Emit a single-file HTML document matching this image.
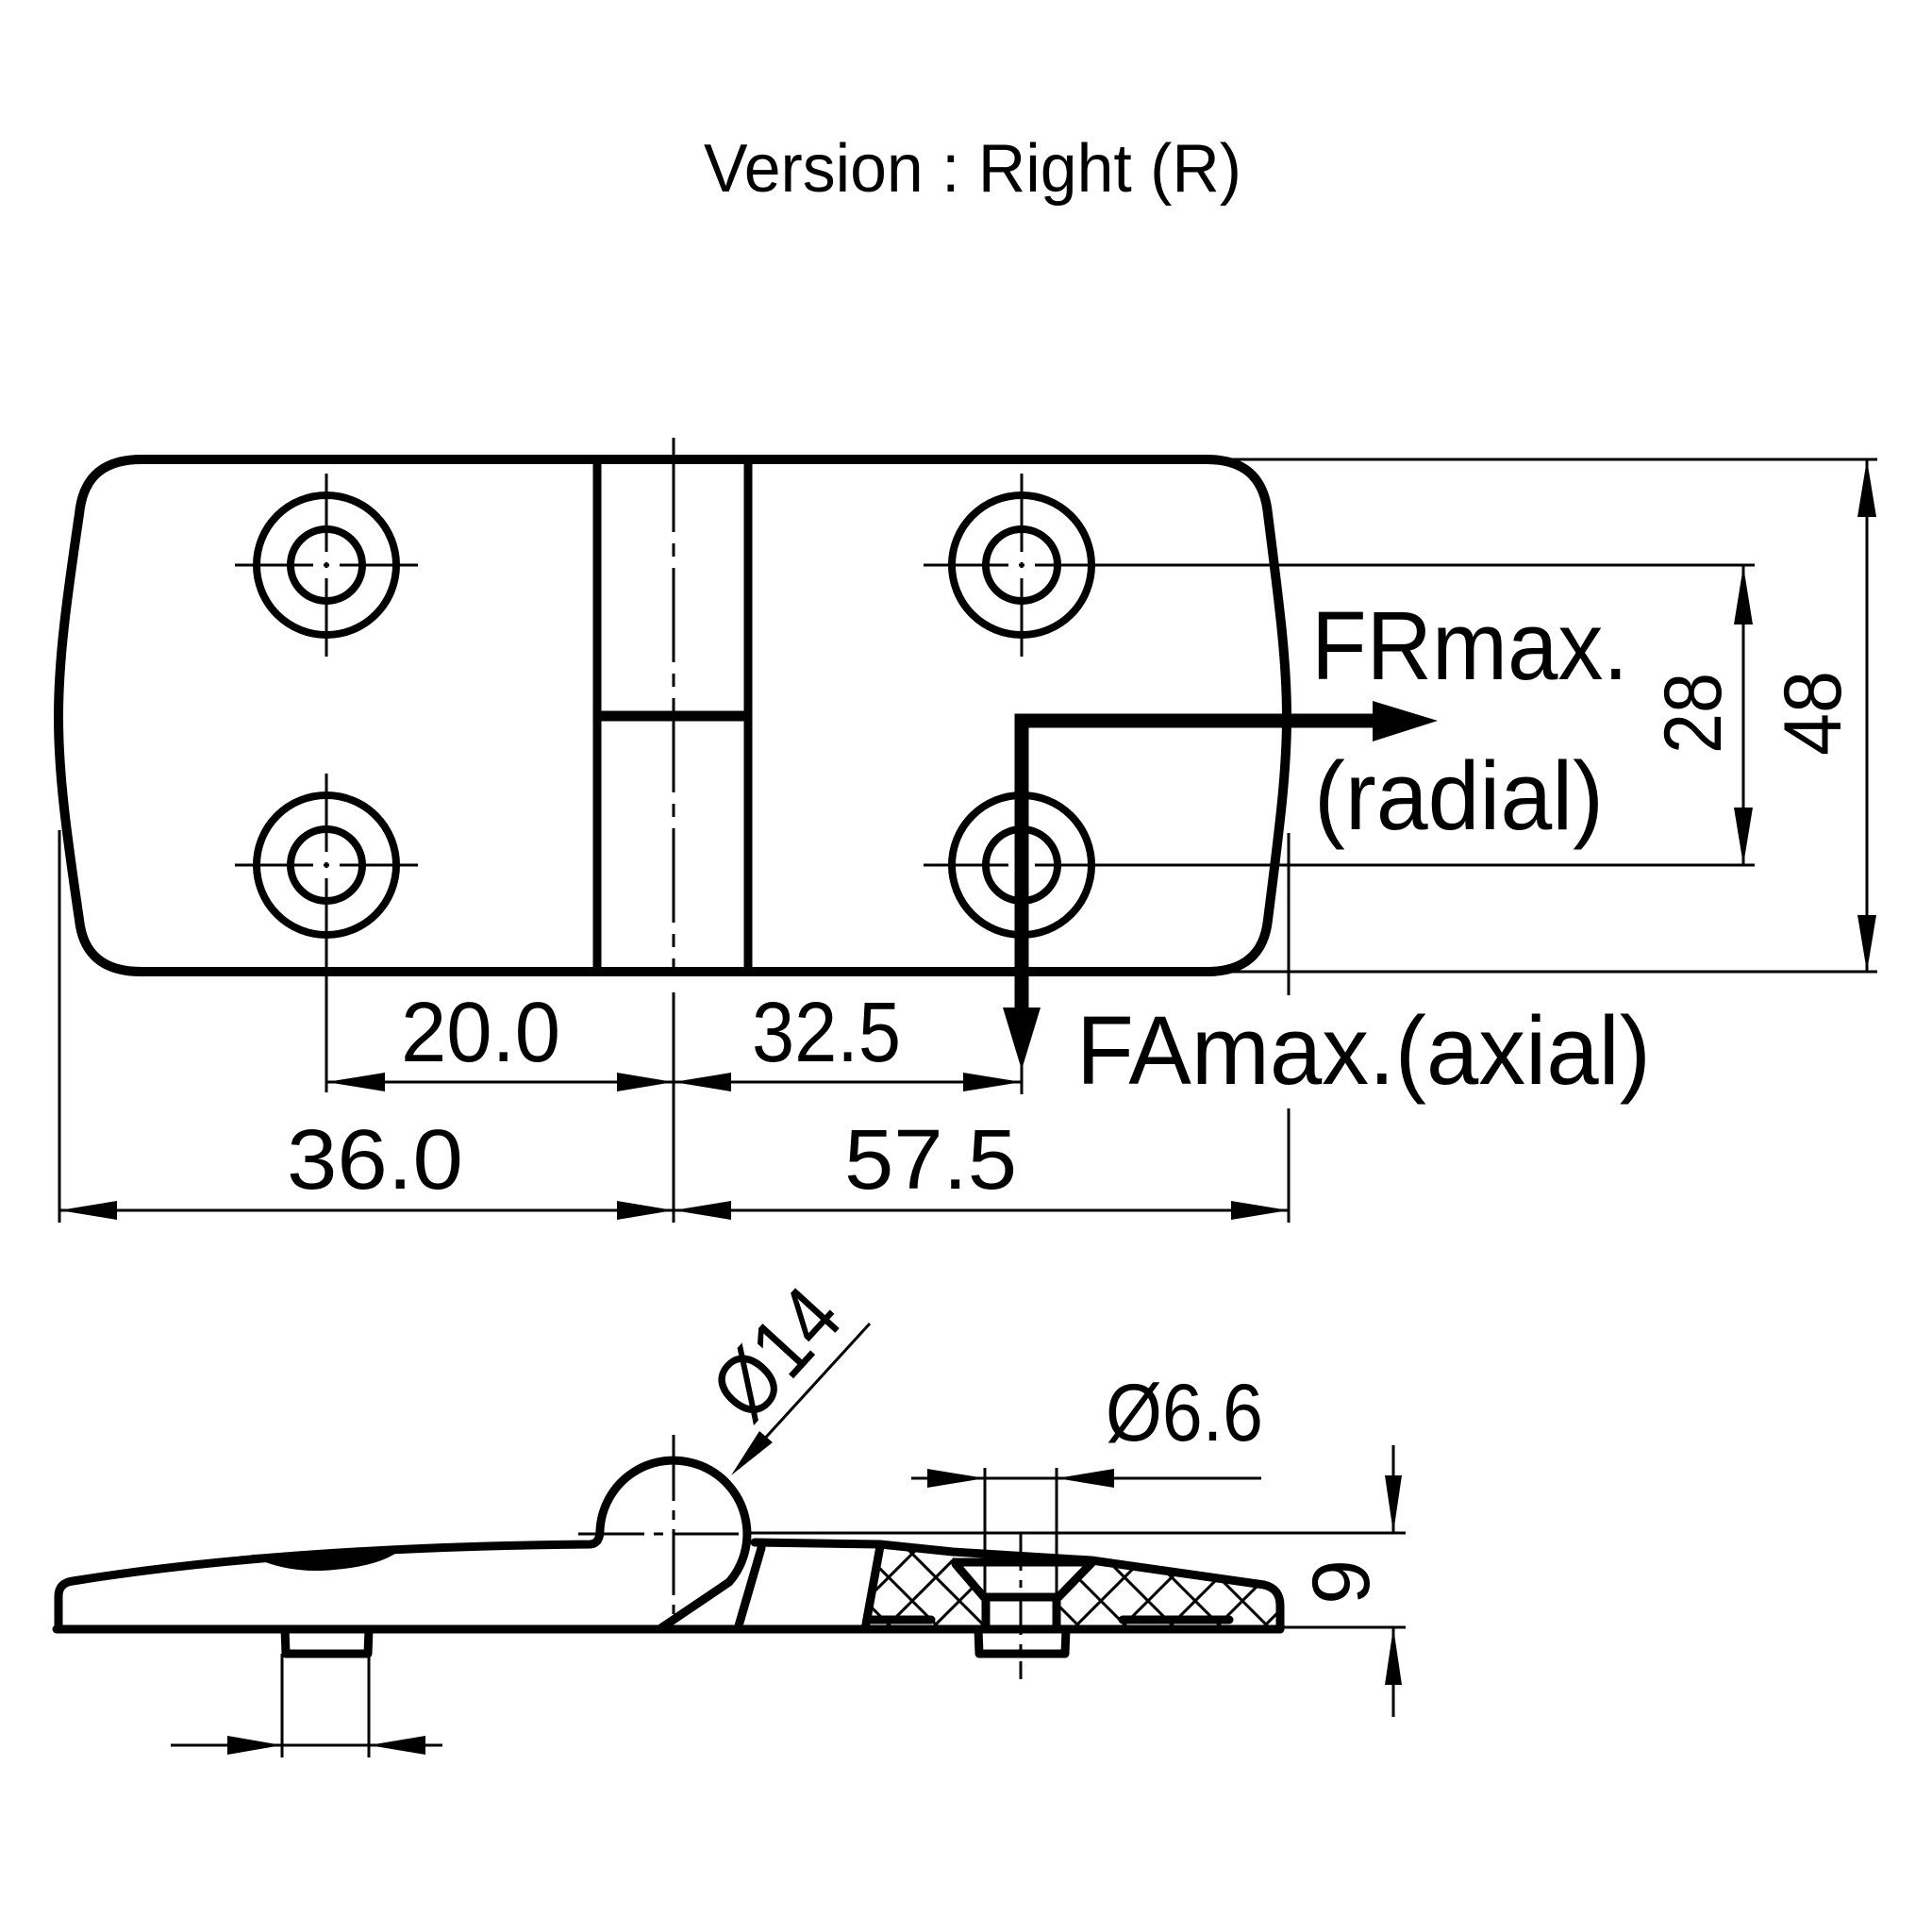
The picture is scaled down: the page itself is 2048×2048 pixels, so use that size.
<!DOCTYPE html>
<html>
<head>
<meta charset="utf-8">
<style>
  html, body { margin: 0; padding: 0; background: #fff; }
  svg { display: block; }
  text { font-family: "Liberation Sans", "DejaVu Sans", sans-serif; fill: #000; }
</style>
</head>
<body>
<svg width="2048" height="2048" viewBox="0 0 2048 2048" xmlns="http://www.w3.org/2000/svg">
  <defs>
    <pattern id="hatch" patternUnits="userSpaceOnUse" x="1142" y="1672" width="50" height="50">
      <path d="M-5,-5 L55,55 M55,-5 L-5,55" stroke="#000" stroke-width="3"/>
    </pattern>
  </defs>
  <rect width="2048" height="2048" fill="#fff"/>

  <!-- Title -->
  <text x="746" y="203" font-size="72" textLength="570" lengthAdjust="spacingAndGlyphs">Version : Right (R)</text>

  <!-- ============ TOP VIEW ============ -->
  <g stroke="#000" stroke-width="3" fill="none">
    <line x1="1279" y1="487" x2="1990" y2="487"/>
    <line x1="1279" y1="1030" x2="1990" y2="1030"/>
    <line x1="1180" y1="599" x2="1860" y2="599"/>
    <line x1="1180" y1="917" x2="1860" y2="917"/>
    <line x1="1979" y1="487" x2="1979" y2="1030"/>
    <line x1="1848" y1="599" x2="1848" y2="917"/>
    <line x1="63" y1="880" x2="63" y2="1296"/>
    <line x1="346" y1="1000" x2="346" y2="1158"/>
    <line x1="714" y1="1052" x2="714" y2="1296"/>
    <line x1="1083" y1="1120" x2="1083" y2="1160"/>
    <line x1="1366" y1="883" x2="1366" y2="1055"/>
    <line x1="1366" y1="1175" x2="1366" y2="1296"/>
    <line x1="346" y1="1147" x2="1083" y2="1147"/>
    <line x1="63" y1="1283" x2="1366" y2="1283"/>
  </g>

  <g fill="#000">
    <polygon points="1979,487 1969,548 1989,548"/>
    <polygon points="1979,1030 1969,970 1989,970"/>
    <polygon points="1848,600 1838,662 1858,662"/>
    <polygon points="1848,917 1838,856 1858,856"/>
    <polygon points="346,1147 408,1137 408,1157"/>
    <polygon points="714,1147 654,1137 654,1157"/>
    <polygon points="714,1147 775,1137 775,1157"/>
    <polygon points="1083,1147 1021,1137 1021,1157"/>
    <polygon points="63,1283 124,1273 124,1293"/>
    <polygon points="714,1283 654,1273 654,1293"/>
    <polygon points="714,1283 775,1273 775,1293"/>
    <polygon points="1366,1283 1305,1273 1305,1293"/>
  </g>

  <!-- Plate outline -->
  <path d="M 150 487 L 1279 487 C 1318 487 1340 505 1344 545 C 1356 640 1364 700 1364 760 C 1364 820 1356 880 1344 975 C 1340 1012 1318 1030 1279 1030 L 150 1030 C 110 1030 88 1012 84 975 C 70 880 62 820 62 760 C 62 700 70 640 84 545 C 88 505 110 487 150 487 Z"
        fill="none" stroke="#000" stroke-width="10" stroke-linejoin="round"/>

  <!-- Knuckle lines -->
  <g stroke="#000" fill="none">
    <line x1="633" y1="487" x2="633" y2="1030" stroke-width="9"/>
    <line x1="793" y1="487" x2="793" y2="1030" stroke-width="9"/>
    <line x1="633" y1="759" x2="793" y2="759" stroke-width="11"/>
    <line x1="714" y1="464" x2="714" y2="1030" stroke-width="3" stroke-dasharray="100 12 14 12"/>
  </g>

  <!-- Holes -->
  <g stroke="#000" fill="none" stroke-width="8">
    <circle cx="346" cy="599" r="74"/><circle cx="346" cy="599" r="38"/>
    <circle cx="346" cy="917" r="74"/><circle cx="346" cy="917" r="38"/>
    <circle cx="1083" cy="599" r="74"/><circle cx="1083" cy="599" r="38"/>
    <circle cx="1083" cy="917" r="74"/><circle cx="1083" cy="917" r="38"/>
  </g>
  <g stroke="#000" stroke-width="3" fill="none">
    <path d="M249 599 H332 M343 599 H349 M360 599 H443"/>
    <path d="M346 502 V585 M346 596 V602 M346 613 V696"/>
    <path d="M249 917 H332 M343 917 H349 M360 917 H443"/>
    <path d="M346 820 V903 M346 914 V920 M346 931 V1030"/>
    <path d="M979 599 H1069 M1080 599 H1086 M1097 599 H1180"/>
    <path d="M1083 502 V585 M1083 596 V602 M1083 613 V696"/>
    <path d="M979 917 H1069 M1097 917 H1180"/>
  </g>

  <!-- Force arrows -->
  <g stroke="#000" fill="none" stroke-width="15">
    <polyline points="1083,1075 1083,764 1460,764"/>
  </g>
  <polygon points="1455,743 1524,764 1455,786" fill="#000"/>
  <polygon points="1063,1068 1103,1068 1083,1134" fill="#000"/>

  <!-- Top view texts -->
  <text x="1390" y="720" font-size="103" textLength="336" lengthAdjust="spacingAndGlyphs">FRmax.</text>
  <text x="1393" y="879" font-size="103" textLength="307" lengthAdjust="spacingAndGlyphs">(radial)</text>
  <text x="1141" y="1149" font-size="103" textLength="609" lengthAdjust="spacingAndGlyphs">FAmax.(axial)</text>

  <text x="425" y="1125" font-size="90" textLength="169" lengthAdjust="spacingAndGlyphs">20.0</text>
  <text x="797" y="1125" font-size="90" textLength="158" lengthAdjust="spacingAndGlyphs">32.5</text>
  <text x="304" y="1260" font-size="90" textLength="187" lengthAdjust="spacingAndGlyphs">36.0</text>
  <text x="895" y="1260" font-size="90" textLength="183" lengthAdjust="spacingAndGlyphs">57.5</text>

  <text transform="translate(1824,756) rotate(-90)" x="0" y="0" font-size="86" text-anchor="middle" textLength="86" lengthAdjust="spacingAndGlyphs">28</text>
  <text transform="translate(1951,756) rotate(-90)" x="0" y="0" font-size="86" text-anchor="middle" textLength="90" lengthAdjust="spacingAndGlyphs">48</text>

  <!-- ============ SIDE VIEW ============ -->
  <g stroke="#000" stroke-width="3" fill="none">
    <line x1="714" y1="1521" x2="714" y2="1720" stroke-dasharray="70 10 10 10"/>
    <line x1="613" y1="1626" x2="796" y2="1626" stroke-dasharray="70 10 10 10"/>
    <line x1="796" y1="1625" x2="1490" y2="1625"/>
    <line x1="1357" y1="1725" x2="1490" y2="1725"/>
    <line x1="1477" y1="1532" x2="1477" y2="1625"/>
    <line x1="1477" y1="1725" x2="1477" y2="1820"/>
    <line x1="966" y1="1567" x2="1337" y2="1567"/>
    <line x1="1044" y1="1556" x2="1044" y2="1693"/>
    <line x1="1120" y1="1556" x2="1120" y2="1693"/>
    <line x1="1082" y1="1625" x2="1082" y2="1780" stroke-dasharray="40 10 8 10"/>
    <line x1="922" y1="1403" x2="785" y2="1553"/>
    <line x1="181" y1="1850" x2="469" y2="1850"/>
    <line x1="299" y1="1753" x2="299" y2="1863"/>
    <line x1="391" y1="1753" x2="391" y2="1863"/>
  </g>
  <g fill="#000">
    <polygon points="1477,1625 1468,1564 1486,1564"/>
    <polygon points="1477,1725 1468,1786 1486,1786"/>
    <polygon points="1044,1567 983,1557 983,1577"/>
    <polygon points="1120,1567 1181,1557 1181,1577"/>
    <polygon points="299,1850 241,1840 241,1860"/>
    <polygon points="391,1850 451,1840 451,1860"/>
    <polygon points="775,1564 805,1517 819,1529"/>
  </g>

  <!-- Hatching -->
  <path d="M935,1640 L1010,1645 L1013,1658 L1043,1693 L1043,1727 L917,1727 Z" fill="url(#hatch)"/>
  <path d="M1157,1656 L1340,1680 L1357,1700 L1357,1727 L1122,1727 L1122,1693 Z" fill="url(#hatch)"/>

  <g stroke="#000" stroke-width="9" fill="none" stroke-linejoin="round" stroke-linecap="round">
    <path d="M 62 1727 L 62 1692 Q 62 1678 77 1676 Q 300 1640 626 1637 Q 636 1636 636 1622 A 78 78 0 1 1 773 1677 L 699 1727"/>
    <line x1="60" y1="1727" x2="1357" y2="1727"/>
    <path d="M302 1727 L303 1753 L390 1753 L391 1727"/>
    <path d="M800 1635 L933 1637 L1010 1645 L1157 1654 L1340 1680 Q 1357 1684 1357 1702 L 1357 1727"/>
    <line x1="807" y1="1641" x2="782" y2="1727"/>
    <line x1="933" y1="1639" x2="917" y2="1727"/>
    <path d="M1013 1656 L1157 1656"/>
    <path d="M1013 1658 L1043 1693 L1122 1693 L1157 1657"/>
    <line x1="1045" y1="1693" x2="1045" y2="1727"/>
    <line x1="1120" y1="1693" x2="1120" y2="1727"/>
    <path d="M1037 1727 L1038 1753 L1129 1753 L1130 1727"/>
    <line x1="921" y1="1717" x2="987" y2="1717"/>
    <line x1="1190" y1="1717" x2="1303" y2="1717"/>
  </g>
  <path d="M 267 1650 Q 300 1666 340 1665 Q 400 1662 423 1644 L 267 1648 Z" fill="#000"/>

  <!-- side view texts -->
  <text x="1172" y="1527" font-size="86" textLength="167" lengthAdjust="spacingAndGlyphs">Ø6.6</text>
  <text transform="translate(846,1456) rotate(-47.6)" x="0" y="0" font-size="92" text-anchor="middle" textLength="150" lengthAdjust="spacingAndGlyphs">Ø14</text>
  <text transform="translate(1451,1677) rotate(-90)" x="0" y="0" font-size="86" text-anchor="middle">9</text>
</svg>
</body>
</html>
